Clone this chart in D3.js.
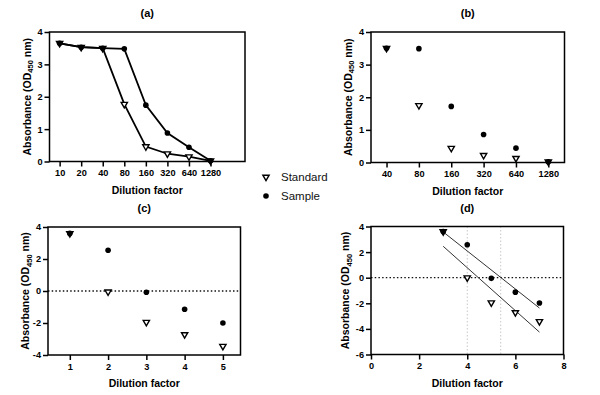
<!DOCTYPE html>
<html><head><meta charset="utf-8">
<script src="https://cdn.jsdelivr.net/npm/d3@7/dist/d3.min.js"></script>
<style>
html,body{margin:0;padding:0;background:#fff;}
svg{display:block;font-family:"Liberation Sans",Arial,sans-serif;}
</style></head>
<body><svg id="c" width="600" height="395"></svg>
<script>
// ---- data ----
const dilutionA = ["10","20","40","80","160","320","640","1280"];
const standardA = [3.65,3.53,3.50,1.77,0.46,0.24,0.15,0.02];
const sampleA   = [3.65,3.53,3.50,3.48,1.74,0.88,0.44,0.02];

const dilutionB = ["40","80","160","320","640","1280"];
const standardB = [3.50,1.75,0.44,0.22,0.13,0.02];
const sampleB   = [3.50,3.49,1.72,0.86,0.44,0.02];

const xC = [1,2,3,4,5];
const standardC = [3.60,-0.05,-1.95,-2.72,-3.45];
const sampleC   = [3.60,2.55,-0.08,-1.14,-2.00];

const xD = [3,4,5,6,7];
const standardD = [3.60,0.00,-1.95,-2.72,-3.42];
const sampleD   = [3.60,2.57,-0.05,-1.13,-1.98];
const refLinesD = [4,5.39];

const yTicksAB = [0,1,2,3,4];
const yTicksC = [-4,-2,0,2,4];
const yTicksD = [-6,-4,-2,0,2,4];
const xTicksD = [0,2,4,6,8];
const legendLabels = ["Standard","Sample"];

const svg = d3.select("#c");
const FONT = "Liberation Sans, Arial, sans-serif";

function triPath(){ return d3.symbol().type(d3.symbolTriangle).size(17)(); }

function panel(o){
  const g = svg.append("g");
  const x = d3.scaleLinear().domain(o.xdom).range([o.l,o.r]);
  const y = d3.scaleLinear().domain(o.ydom).range([o.b,o.t]);
  if(o.vlines){
    o.vlines.forEach(v=>{
      g.append("line").attr("x1",x(v)).attr("x2",x(v)).attr("y1",o.t).attr("y2",o.b)
        .attr("stroke","#c8c8c8").attr("stroke-width",1).attr("stroke-dasharray","1.5,2");
    });
  }
  if(o.zero){
    g.append("line").attr("x1",o.l).attr("x2",o.r).attr("y1",y(0)).attr("y2",y(0))
      .attr("stroke","#111").attr("stroke-width",1.3).attr("stroke-dasharray","1.5,2.2");
  }
  g.append("rect").attr("x",o.l).attr("y",o.t).attr("width",o.r-o.l).attr("height",o.b-o.t)
    .attr("fill","none").attr("stroke","#000").attr("stroke-width",1.5);
  const ya = g.append("g").attr("transform",`translate(${o.l},0)`)
    .call(d3.axisLeft(y).tickValues(o.yticks).tickSize(5).tickPadding(2).tickFormat(d=>d<0?"-"+Math.abs(d):d));
  const xa = g.append("g").attr("transform",`translate(0,${o.b})`)
    .call(d3.axisBottom(x).tickValues(o.xticks).tickSize(5).tickPadding(3).tickFormat(o.xfmt||(d=>d)));
  [ya,xa].forEach(a=>{
    a.select(".domain").remove();
    a.selectAll(".tick line").attr("stroke","#000").attr("stroke-width",1.5);
    a.selectAll(".tick text").attr("font-family",FONT).attr("font-weight","bold").attr("font-size","9.2px").attr("fill","#000");
  });
  if(o.fit){
    [o.smp, o.std].forEach(ys=>{
      const xs = o.sx;
      const mx = d3.mean(xs), my = d3.mean(ys);
      const slope = d3.sum(xs.map((v,i)=>(v-mx)*(ys[i]-my)))/d3.sum(xs.map(v=>(v-mx)*(v-mx)));
      const x0 = d3.min(xs), x1 = d3.max(xs);
      g.append("line").attr("x1",x(x0)).attr("y1",y(my+slope*(x0-mx)))
        .attr("x2",x(x1)).attr("y2",y(my+slope*(x1-mx)))
        .attr("stroke","#333").attr("stroke-width",1);
    });
  }
  const pts = o.sx.map((v,i)=>i);
  if(o.lines){
    const lg = d3.line().x(i=>x(o.sx[i]));
    g.append("path").attr("d",lg.y(i=>y(o.std[i]))(pts)).attr("fill","none").attr("stroke","#000").attr("stroke-width",1.8);
    g.append("path").attr("d",lg.y(i=>y(o.smp[i]))(pts)).attr("fill","none").attr("stroke","#000").attr("stroke-width",1.8);
  }
  pts.forEach(i=>{
    g.append("path").attr("d",triPath())
      .attr("transform",`translate(${x(o.sx[i])},${y(o.std[i])}) rotate(180)`)
      .attr("fill","#fff").attr("stroke","#000").attr("stroke-width",1.4);
  });
  pts.forEach(i=>{
    g.append("circle").attr("cx",x(o.sx[i])).attr("cy",y(o.smp[i])).attr("r",2.8).attr("fill","#000");
  });
  g.append("text").attr("x",(o.l+o.r)/2).attr("y",o.titleY).attr("text-anchor","middle")
    .attr("font-weight","bold").attr("font-size","11px").text(o.title);
  g.append("text").attr("x",(o.l+o.r)/2).attr("y",o.xlabY).attr("text-anchor","middle")
    .attr("font-weight","bold").attr("font-size","10.5px").text("Dilution factor");
  const yl = g.append("text").attr("transform",`translate(${o.ylabX},${(o.t+o.b)/2}) rotate(-90)`)
    .attr("text-anchor","middle").attr("font-weight","bold").attr("font-size","10.5px");
  yl.append("tspan").text("Absorbance (OD");
  yl.append("tspan").attr("dy",2.5).attr("font-size","7.5px").text("450");
  yl.append("tspan").attr("dy",-2.5).text(" nm)");
}

const idxA = dilutionA.map((d,i)=>i);
panel({l:49.5,r:245,t:32,b:161.5,xdom:[-0.47,8.6],ydom:[0,4],
  sx:idxA,std:standardA,smp:sampleA,xticks:idxA,xfmt:i=>dilutionA[i],yticks:yTicksAB,
  lines:true,title:"(a)",titleY:17,xlabY:194,ylabX:30.5});

const idxB = dilutionB.map((d,i)=>i);
panel({l:371,r:564.5,t:32,b:162.5,xdom:[-0.48,5.5],ydom:[0,4],
  sx:idxB,std:standardB,smp:sampleB,xticks:idxB,xfmt:i=>dilutionB[i],yticks:yTicksAB,
  title:"(b)",titleY:17,xlabY:195,ylabX:351.5});

panel({l:48,r:240.5,t:227,b:355,xdom:[0.43,5.46],ydom:[-4,4],
  sx:xC,std:standardC,smp:sampleC,xticks:xC,yticks:yTicksC,zero:true,
  title:"(c)",titleY:212,xlabY:387,ylabX:29});

panel({l:371,r:563.5,t:226.5,b:354.5,xdom:[0,8],ydom:[-6,4],
  sx:xD,std:standardD,smp:sampleD,xticks:xTicksD,yticks:yTicksD,zero:true,fit:true,vlines:refLinesD,
  title:"(d)",titleY:212,xlabY:386.5,ylabX:349});

const lg = svg.append("g");
lg.append("path").attr("d",triPath()).attr("transform","translate(266,177) rotate(180)")
  .attr("fill","#fff").attr("stroke","#000").attr("stroke-width",1.4);
lg.append("circle").attr("cx",266).attr("cy",196).attr("r",2.8).attr("fill","#000");
legendLabels.forEach((t,i)=>{
  lg.append("text").attr("x",281).attr("y",181+i*19).attr("font-size","11.5px").attr("fill","#111").text(t);
});
</script></body></html>
